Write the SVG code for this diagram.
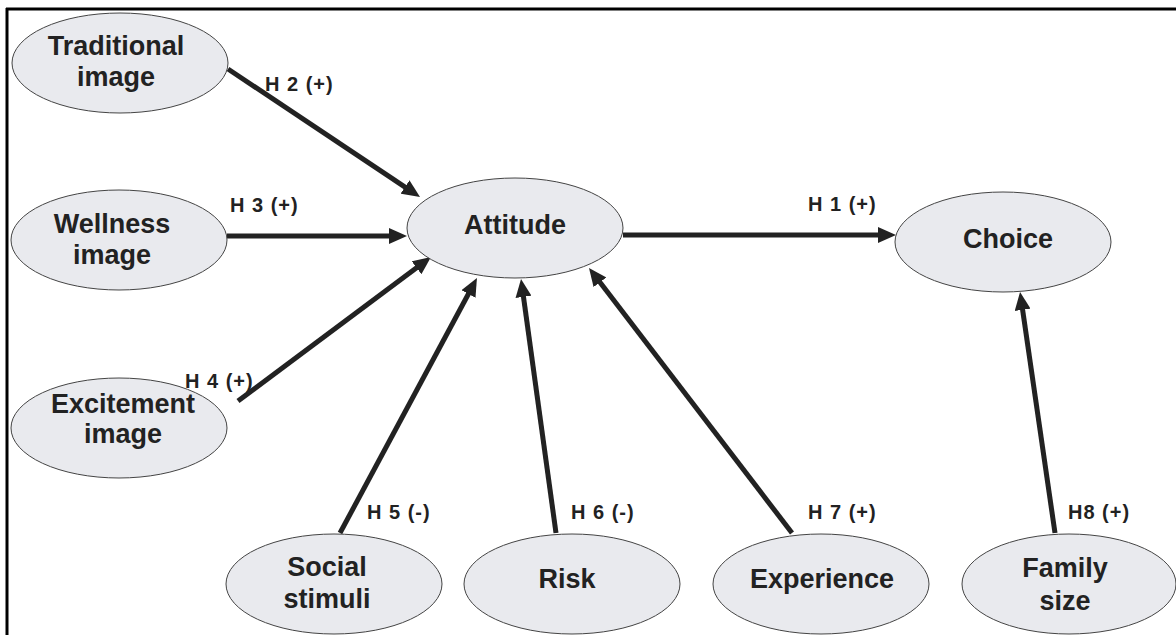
<svg xmlns="http://www.w3.org/2000/svg" width="1176" height="635" viewBox="0 0 1176 635">
<style>
.node ellipse{fill:#e9eaee;stroke:#444;stroke-width:1}
.node text{font-family:"Liberation Sans",Arial,sans-serif;font-weight:bold;font-size:27px;fill:#222;text-anchor:middle}
.edge{stroke:#222;stroke-width:5;fill:none;marker-end:url(#arr)}
.lbl{font-family:"Liberation Sans",Arial,sans-serif;font-weight:bold;font-size:20px;fill:#222;letter-spacing:1px}
</style>
<defs>
<marker id="arr" markerUnits="userSpaceOnUse" markerWidth="18" markerHeight="16" refX="5" refY="8" orient="auto">
<path d="M0,0 L18,8 L0,16 Z" fill="#222"/>
</marker>
</defs>
<rect x="0" y="0" width="1176" height="635" fill="#fff"/>
<line x1="6" y1="9" x2="1176" y2="9" stroke="#000" stroke-width="3"/>
<line x1="7" y1="8" x2="7" y2="635" stroke="#000" stroke-width="3"/>
<g id="connectors">
<line class="edge" x1="228" y1="69" x2="409.2" y2="189.8"/>
<line class="edge" x1="227" y1="236" x2="394" y2="236"/>
<line class="edge" x1="238" y1="401" x2="420.6" y2="264.8"/>
<line class="edge" x1="340" y1="533" x2="470.8" y2="289.5"/>
<line class="edge" x1="556" y1="533" x2="522.8" y2="291.9"/>
<line class="edge" x1="792" y1="533" x2="596.9" y2="278.3"/>
<line class="edge" x1="623" y1="235" x2="883" y2="235"/>
<line class="edge" x1="1055" y1="533" x2="1021.9" y2="304.9"/>
<text class="lbl" x="265" y="91">H 2 (+)</text>
<text class="lbl" x="230" y="212">H 3 (+)</text>
<text class="lbl" x="185" y="388">H 4 (+)</text>
<text class="lbl" x="367" y="519">H 5 (-)</text>
<text class="lbl" x="571" y="519">H 6 (-)</text>
<text class="lbl" x="808" y="519">H 7 (+)</text>
<text class="lbl" x="1068" y="519">H8 (+)</text>
<text class="lbl" x="808" y="211">H 1 (+)</text>
</g>
<g id="traditional" class="node"><ellipse cx="120" cy="63" rx="108" ry="50"/><text x="116" y="55">Traditional</text><text x="116" y="86">image</text></g>
<g id="wellness" class="node"><ellipse cx="119" cy="240" rx="108" ry="50"/><text x="112" y="233">Wellness</text><text x="112" y="264">image</text></g>
<g id="excitement" class="node"><ellipse cx="119" cy="428" rx="108" ry="50"/><text x="123" y="413">Excitement</text><text x="123" y="443">image</text></g>
<g id="attitude" class="node"><ellipse cx="515" cy="228" rx="108" ry="50"/><text x="515" y="234">Attitude</text></g>
<g id="choice" class="node"><ellipse cx="1003" cy="242" rx="108" ry="50"/><text x="1008" y="248">Choice</text></g>
<g id="social" class="node"><ellipse cx="334" cy="584" rx="108" ry="50"/><text x="327" y="576">Social</text><text x="327" y="608">stimuli</text></g>
<g id="risk" class="node"><ellipse cx="572" cy="584" rx="108" ry="50"/><text x="567" y="588">Risk</text></g>
<g id="experience" class="node"><ellipse cx="821" cy="584" rx="108" ry="50"/><text x="822" y="588">Experience</text></g>
<g id="family" class="node"><ellipse cx="1069" cy="584" rx="107" ry="50"/><text x="1065" y="577">Family</text><text x="1065" y="610">size</text></g>
</svg>
